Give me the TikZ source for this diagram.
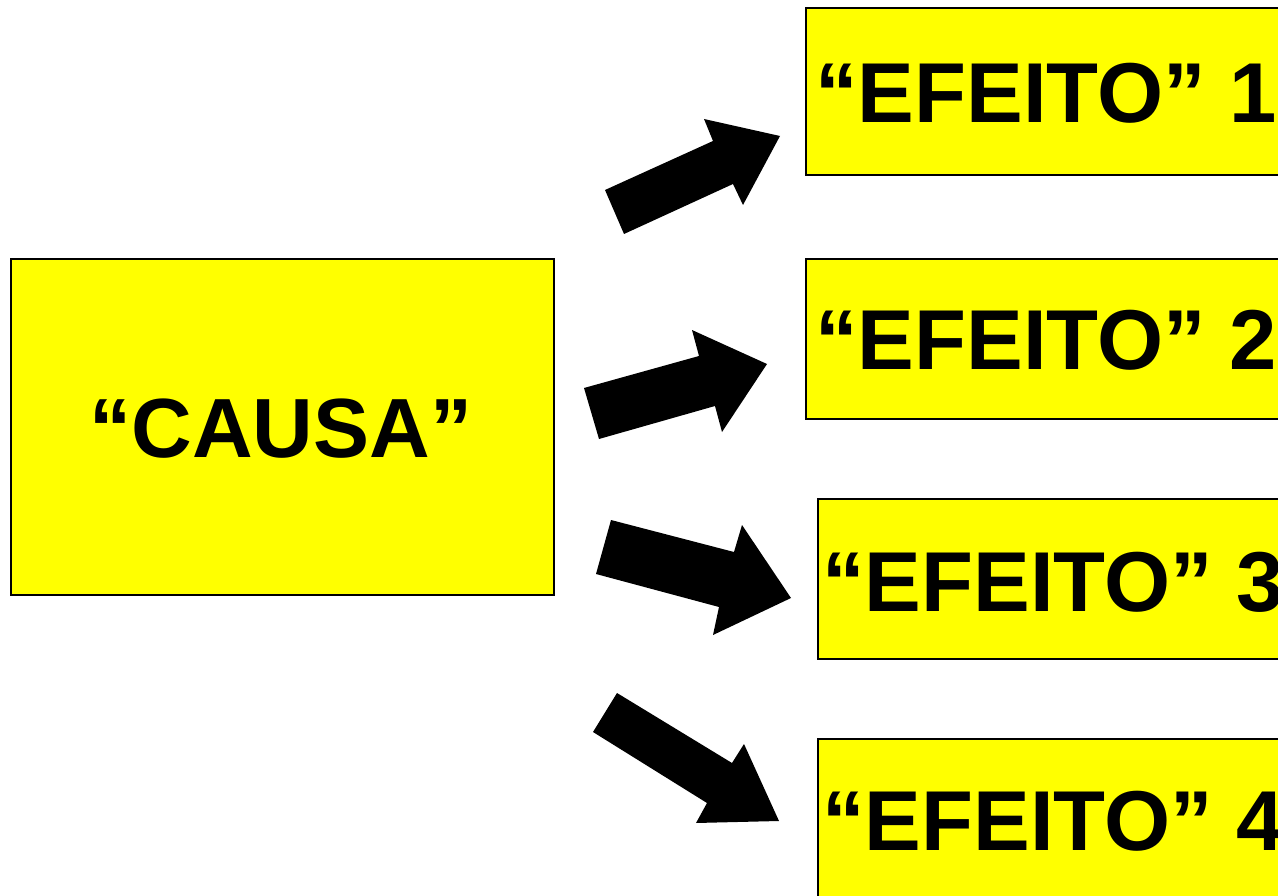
\documentclass[tikz,border=0pt]{standalone}
\usepackage{fontspec}
\setmainfont{Liberation Sans}
\definecolor{boxyellow}{RGB}{255,255,0}
\begin{document}
\begin{tikzpicture}[x=1pt,y=-1pt,
  box/.style={draw=black,fill=boxyellow,line width=1.6pt,inner sep=0pt,anchor=north west},
  effecttext/.style={inner sep=0pt,anchor=base west,font=\fontsize{85}{85}\selectfont\bfseries},
  causetext/.style={inner sep=0pt,anchor=base,font=\fontsize{84}{84}\selectfont\bfseries},
  blockarrow/.style={fill=black}]
\useasboundingbox (0,0) rectangle (1278,896);
% boxes
\node[box,minimum width=543pt,minimum height=336pt] (cbox) at (10,258) {};
\node[box,minimum width=500pt,minimum height=167pt] (e1box) at (805,7) {};
\node[box,minimum width=500pt,minimum height=160pt] (e2box) at (805,258) {};
\node[box,minimum width=500pt,minimum height=160pt] (e3box) at (817,498) {};
\node[box,minimum width=500pt,minimum height=200pt] (e4box) at (817,738) {};
% texts
\node[causetext] (causa) at (281,457) {“CAUSA”};
\node[effecttext] (e1) at (815,123) {“EFEITO” 1};
\node[effecttext] (e2) at (815,370) {“EFEITO” 2};
\node[effecttext] (e3) at (822,611) {“EFEITO” 3};
\node[effecttext] (e4) at (822,850) {“EFEITO” 4};
% block arrows
\fill[blockarrow] (605,190) -- (713,141) -- (704,119) -- (780,136) -- (743,205) -- (733,184) -- (624,234) -- cycle;
\fill[blockarrow] (584,388) -- (699,356) -- (692,330) -- (767,364) -- (722,432) -- (715,406) -- (599,439) -- cycle;
\fill[blockarrow] (611,520) -- (734,552) -- (742,525) -- (791,598) -- (713,635) -- (719,607) -- (596,574) -- cycle;
\fill[blockarrow] (617,693) -- (732,763) -- (744,744) -- (779,821) -- (696,823) -- (707,803) -- (593,732) -- cycle;
\end{tikzpicture}
\end{document}
